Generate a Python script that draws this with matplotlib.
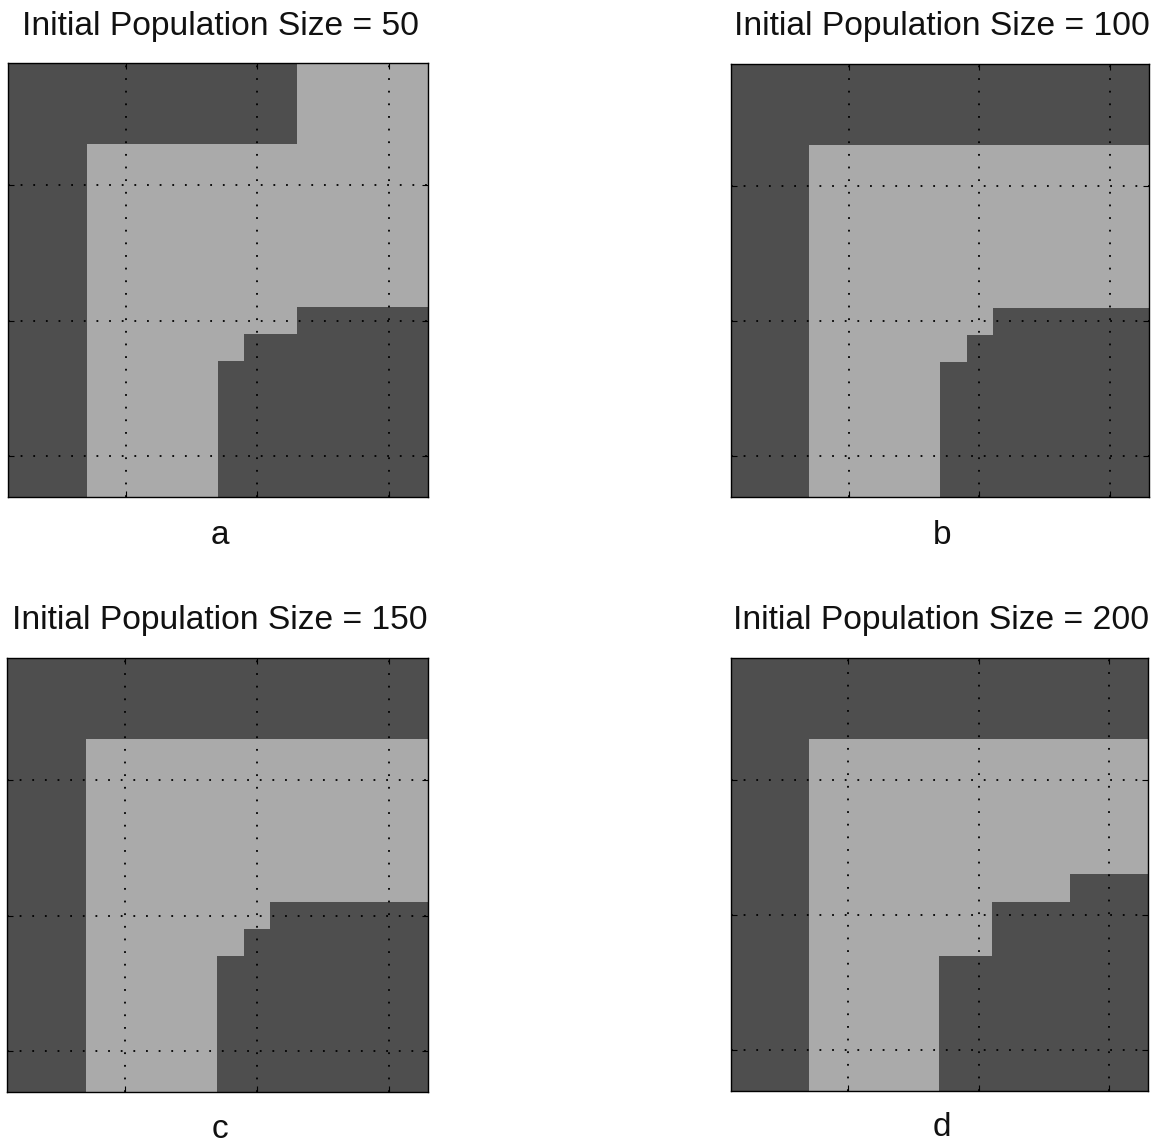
import numpy as np
import matplotlib
matplotlib.use("Agg")
import matplotlib.pyplot as plt
from matplotlib.colors import ListedColormap

# 16x16 maps, '#' = dark region, '.' = light region (row 0 = top)
titles = ["Initial Population Size = 50", "Initial Population Size = 100",
          "Initial Population Size = 150", "Initial Population Size = 200"]
labels = ["a", "b", "c", "d"]

map_a = [
    "###########.....",
    "###########.....",
    "###########.....",
    "###.............",
    "###.............",
    "###.............",
    "###.............",
    "###.............",
    "###.............",
    "###........#####",
    "###......#######",
    "###.....########",
    "###.....########",
    "###.....########",
    "###.....########",
    "###.....########",
]
map_b = [
    "################",
    "################",
    "################",
    "###.............",
    "###.............",
    "###.............",
    "###.............",
    "###.............",
    "###.............",
    "###.......######",
    "###......#######",
    "###.....########",
    "###.....########",
    "###.....########",
    "###.....########",
    "###.....########",
]
map_c = [
    "################",
    "################",
    "################",
    "###.............",
    "###.............",
    "###.............",
    "###.............",
    "###.............",
    "###.............",
    "###.......######",
    "###......#######",
    "###.....########",
    "###.....########",
    "###.....########",
    "###.....########",
    "###.....########",
]
map_d = [
    "################",
    "################",
    "################",
    "###.............",
    "###.............",
    "###.............",
    "###.............",
    "###.............",
    "###..........###",
    "###.......######",
    "###.......######",
    "###.....########",
    "###.....########",
    "###.....########",
    "###.....########",
    "###.....########",
]
maps = [map_a, map_b, map_c, map_d]
tick_positions = [5, 10, 15]

dark = "#4e4e4e"
light = "#aaaaaa"
cmap = ListedColormap([light, dark])

W, H = 1162, 1146
fig = plt.figure(figsize=(W / 100, H / 100), dpi=100)
plt.rcParams['font.family'] = ['Liberation Sans', 'DejaVu Sans']

# axes positions in pixels: (left, top, right, bottom)
boxes = [(8, 63, 428, 497), (731, 64, 1149, 497),
         (7, 658, 428, 1092), (731, 658, 1148, 1091)]
title_y = [26, 26, 620, 620]
label_y = [535, 535, 1129, 1127]

for m, t, lab, (l, tp, r, b), ty, ly in zip(maps, titles, labels, boxes, title_y, label_y):
    arr = np.array([[1 if ch == '#' else 0 for ch in row] for row in m])
    n = arr.shape[0]
    ax = fig.add_axes([l / W, 1 - b / H, (r - l) / W, (b - tp) / H])
    ax.imshow(arr, cmap=cmap, vmin=0, vmax=1, interpolation='nearest',
              extent=(0.5, n + 0.5, n + 0.5, 0.5), aspect='auto')
    ax.set_xticks(tick_positions)
    ax.set_yticks(tick_positions)
    ax.set_xticklabels([])
    ax.set_yticklabels([])
    ax.tick_params(direction='in', length=4, width=0.8, top=True, right=True,
                   color='black')
    ax.grid(True, color='black', linestyle=(0, (1, 6)), linewidth=1.3)
    for s in ax.spines.values():
        s.set_linewidth(1.0)
        s.set_color('black')
    cx = (l + r) / 2 + 2
    fig.text(cx / W, 1 - ty / H, t, ha='center', va='center',
             fontsize=24.2, color='#111111')
    fig.text(cx / W, 1 - ly / H, lab, ha='center', va='center',
             fontsize=24, color='#111111')

fig.savefig("out.png", dpi=100)
